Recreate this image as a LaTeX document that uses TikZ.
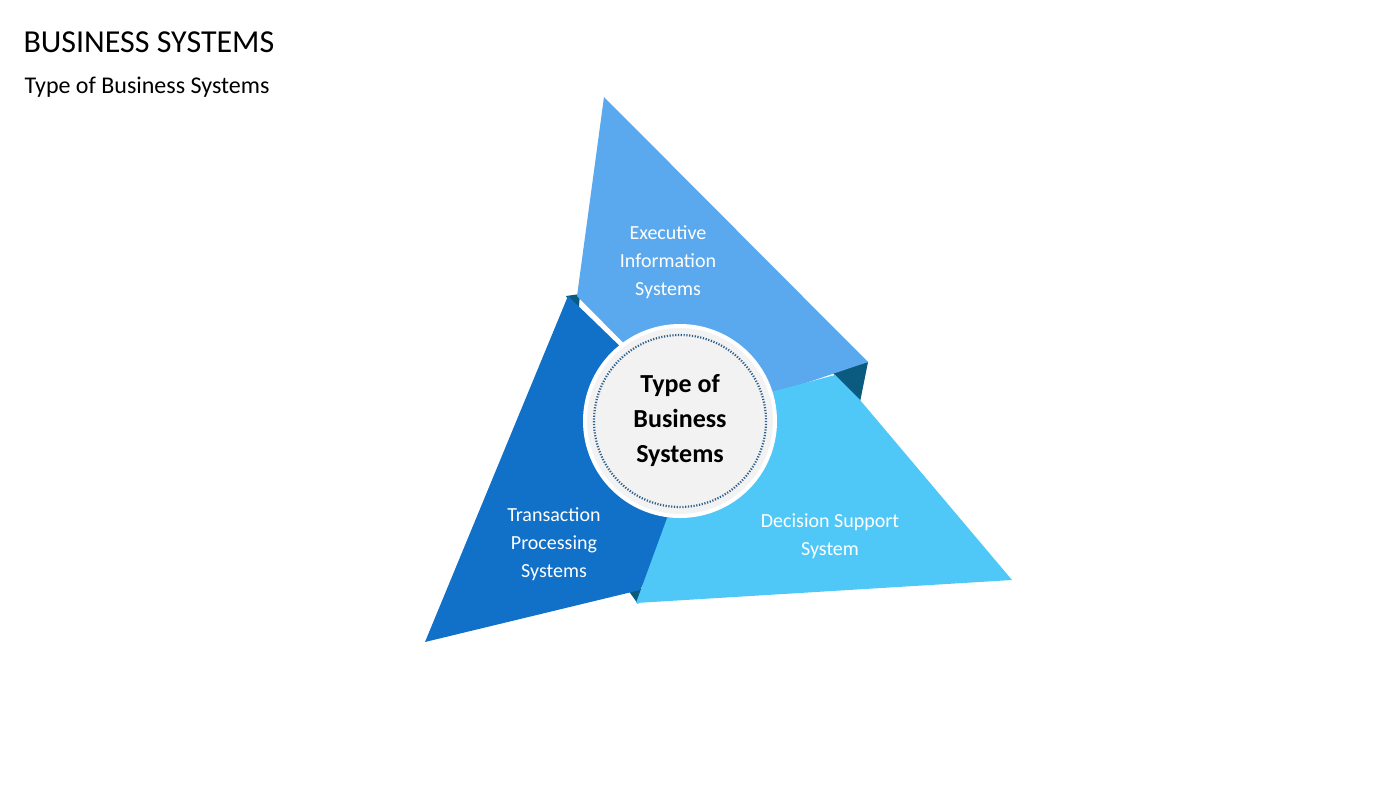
\documentclass[tikz,border=0pt]{standalone}
\usepackage{fontspec}
\setmainfont{Carlito}
\usetikzlibrary{positioning}
\definecolor{execblue}{HTML}{5AA9EE}
\definecolor{transblue}{HTML}{1170C8}
\definecolor{decblue}{HTML}{4FC8F8}
\definecolor{foldblue}{HTML}{0B5A80}
\definecolor{dotblue}{HTML}{2E5E8E}
\tikzset{panel/.style={draw=none}}
\tikzset{fold/.style={fill=foldblue}}
\tikzset{panel text/.style={white, align=center, font=\fontsize{20}{28}\selectfont}}
\tikzset{hub/.style={circle, fill=black!5, draw=white, line width=4pt, minimum size=190pt,
    align=center, font=\bfseries\fontsize{26}{35}\selectfont}}

\begin{document}
\begin{tikzpicture}[x=1pt, y=-1pt]
      \useasboundingbox (0,0) rectangle (1400,788);

      \node [anchor=west, font=\fontsize{32}{36}\selectfont] (title) at (20,42) {BUSINESS SYSTEMS};
      \node [anchor=west, font=\fontsize{24}{28}\selectfont] (subtitle) at (21,87) {Type of Business Systems};

      % folds behind the panels
      \fill [fold] (566,296) -- (580,294) -- (578,318) -- cycle;
      \fill [fold] (832,372) -- (868,362) -- (860,402) -- cycle;
      \fill [fold] (628,590) -- (645,588) -- (638,604) -- cycle;

      % panels
      \fill [panel, fill=execblue]  (604,97) -- (868,362) -- (770,395) -- (680,400) -- (577,296) -- cycle;
      \fill [panel, fill=transblue] (568,296) -- (425,642) -- (640,590) -- (700,480) -- (660,385) -- cycle;
      \fill [panel, fill=decblue]   (636,603) -- (1012,580) -- (860,400) -- (835,375) -- (760,395) -- (670,510) -- cycle;

      \node [panel text] (exec)  at (668,262) {Executive\\Information\\Systems};
      \node [panel text] (trans) at (554,544) {Transaction\\Processing\\Systems};
      \node [panel text] (dec)   at (830,536) {Decision Support\\System};

      \node [hub] (hub) at (680,421) {Type of\\Business\\Systems};
      \draw [dotblue, line width=2.2pt, dash pattern=on 1.2pt off 1.6pt] (hub.center) circle (86);
\end{tikzpicture}
\end{document}
